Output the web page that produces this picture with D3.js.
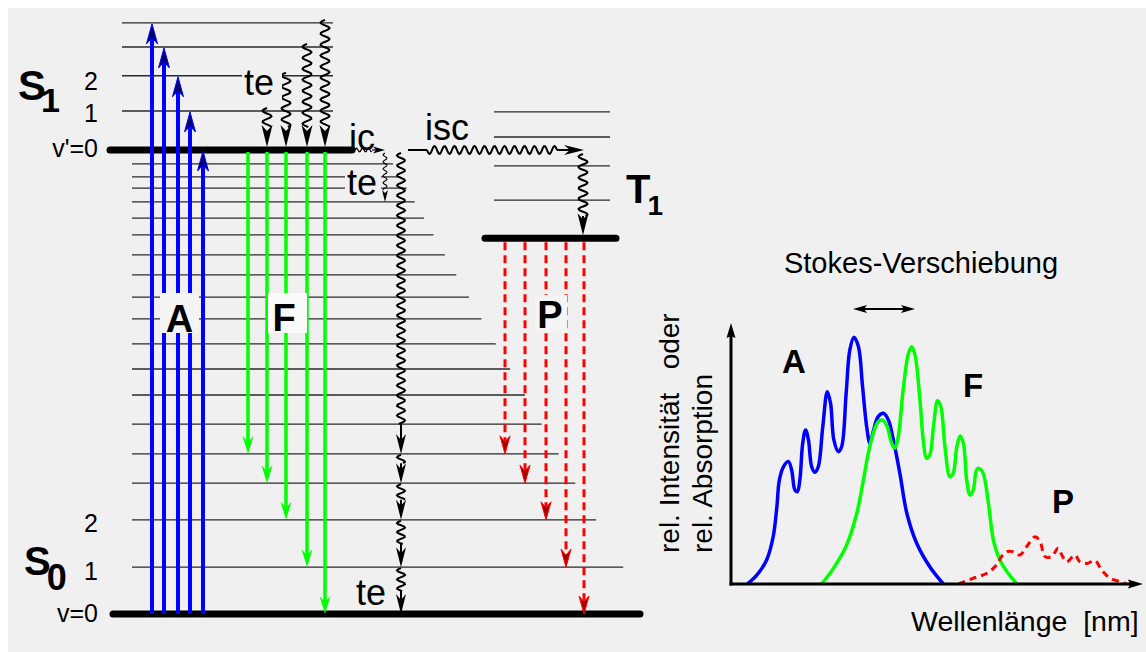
<!DOCTYPE html>
<html>
<head>
<meta charset="utf-8">
<script src="https://cdn.jsdelivr.net/npm/d3@7"></script>
<style>
  body { margin: 0; background: #fff; }
  svg { display: block; }
  text { font-family: "Liberation Sans", Arial, sans-serif; fill: #000; }
</style>
</head>
<body>
<svg id="chart" width="1146" height="652"></svg>
<script>
// energies in arbitrary units: S0 v=0 -> 0, S1 v'=0 -> 100
const s0Levels = [0, 10.1, 20.3, 28.2, 34.5, 40.9, 47.2, 52.8, 58.2, 63.6, 68.3,
  73.1, 77.4, 81.7, 85.3, 88.8, 91.8, 94.2, 97.0];
const s1Levels = [100, 108.4, 116.0, 122.2, 127.4];
const t1Levels = [81.0, 89.2, 96.6, 102.8, 108.2];

// which vibrational level each transition ends in
const absorptionTo = [4, 3, 2, 1, 0];
const fluorescenceTo = [4, 3, 2, 1, 0];
const phosphorescenceTo = [4, 3, 2, 1, 0];
const relaxFrom = [1, 2, 3, 4];
const cascadeTo = [4, 3, 2, 1, 0];

const s1Numbers = ["v'=0", "1", "2"];
const s0Numbers = ["v=0", "1", "2"];

// spectra: [wavelength (rel.), intensity (rel.)]
const absSpectrum = [[3.5, 0], [5.8, 3.4], [8.2, 9.2], [9.8, 18.1], [10.7, 29.6], [11.3, 39.8],
  [12.3, 44.9], [13.5, 46.9], [14.3, 43.7], [15.1, 36.0], [15.7, 35.4], [16.3, 39.8],
  [17.0, 53.9], [17.7, 59.0], [18.4, 55.2], [19.2, 44.9], [20.0, 42.8], [20.8, 44.9],
  [21.9, 60.3], [23.0, 73.7], [23.8, 69.2], [24.6, 55.2], [25.7, 50.7], [26.5, 52.6],
  [27.6, 73.1], [28.5, 89.7], [29.5, 94.5], [30.6, 90.9], [31.6, 75.6], [32.6, 60.3],
  [33.4, 53.9], [34.2, 58.4], [35.4, 64.1], [36.7, 65.4], [37.9, 62.8], [39.1, 55.2],
  [40.7, 42.4], [42.4, 27.1], [44.8, 15.6], [48.0, 6.6], [51.3, 0]];
const fluoSpectrum = [[21.6, 0], [24.5, 6.0], [27.7, 14.9], [30.2, 27.1], [31.8, 39.8],
  [33.0, 50.1], [34.2, 57.7], [35.4, 62.2], [36.5, 62.8], [37.6, 60.3], [38.7, 53.9],
  [39.5, 52.0], [40.3, 56.4], [41.5, 74.3], [42.8, 88.4], [43.6, 90.9], [44.4, 87.7],
  [45.6, 70.5], [46.4, 55.2], [47.2, 48.2], [48.0, 49.4], [48.9, 60.3], [49.9, 70.2],
  [50.7, 67.9], [51.7, 52.6], [52.9, 41.1], [53.7, 42.4], [54.6, 52.6], [55.4, 56.7],
  [56.2, 53.9], [57.0, 39.8], [57.8, 34.1], [58.6, 36.0], [59.4, 43.7], [60.0, 44.3],
  [61.0, 42.4], [62.3, 30.9], [63.5, 16.9], [65.1, 9.2], [67.1, 4.1], [69.3, 0]];
const phosSpectrum = [[55.0, 0], [58.6, 2.2], [61.9, 4.1], [64.3, 7.3], [65.5, 10.5],
  [66.8, 12.4], [68.4, 12.4], [70.0, 11.1], [71.6, 14.3], [73.7, 18.1], [74.9, 16.2],
  [76.1, 10.5], [77.7, 10.5], [79.3, 13.7], [80.2, 11.1], [81.4, 8.5], [83.4, 11.1],
  [84.6, 8.5], [86.3, 7.9], [88.3, 8.9], [89.9, 5.4], [92.0, 2.2], [94.4, 0.9], [96.0, 0]];

const svg = d3.select("#chart");
const BG = "#f0f0f0";
svg.append("rect").attr("x", 8).attr("y", 8).attr("width", 1138).attr("height", 644).attr("fill", BG);

const yE = d3.scaleLinear().domain([0, 100]).range([614, 150]);
const s0End = d3.scaleLinear().domain([0, 100]).range([650, 385]); // staircase of S0 level ends

// layout of the vertical arrows
const blueX = [152, 164, 178, 190, 203];
const greenX = [248, 267, 286, 307, 325];
const redX = [505, 525, 546, 566, 584];
const cascadeX = 401;

const line = d3.line();

function head(g, x, y, angle, o = {}) {
  const len = o.len || 20, w = o.w || 11, notch = o.notch || 6;
  g.append("path")
    .attr("d", `M0,0L${-w / 2},${len}L0,${len - notch}L${w / 2},${len}Z`)
    .attr("transform", `translate(${x},${y}) rotate(${angle})`)
    .attr("fill", o.fill || "#000")
    .attr("stroke", o.stroke || "none")
    .attr("stroke-width", 1);
}

function wavy(x0, y0, x1, y1, amp, period) {
  const len = Math.hypot(x1 - x0, y1 - y0);
  const ux = (x1 - x0) / len, uy = (y1 - y0) / len;
  const n = Math.ceil(len / 1.2);
  const pts = d3.range(n + 1).map((i) => {
    const t = (i / n) * len;
    const off = amp * Math.sin((2 * Math.PI * t) / period);
    return [x0 + ux * t - uy * off, y0 + uy * t + ux * off];
  });
  return line(pts);
}

const levels = svg.append("g").attr("stroke", "#2a2a2a").attr("stroke-width", 1.3);

// S1 vibrational levels
s1Levels.slice(1).forEach((e) => {
  levels.append("line").attr("x1", 122).attr("x2", 333).attr("y1", yE(e)).attr("y2", yE(e));
});
// S0 vibrational levels
s0Levels.slice(1).forEach((e) => {
  levels.append("line").attr("x1", 132).attr("x2", s0End(e)).attr("y1", yE(e)).attr("y2", yE(e));
});
// T1 vibrational levels
t1Levels.slice(1).forEach((e) => {
  levels.append("line").attr("x1", 494).attr("x2", 610).attr("y1", yE(e)).attr("y2", yE(e));
});

// ground levels (thick)
const thick = svg.append("g").attr("stroke", "#000").attr("stroke-width", 7).attr("stroke-linecap", "round");
thick.append("line").attr("x1", 110).attr("x2", 352).attr("y1", yE(s1Levels[0])).attr("y2", yE(s1Levels[0]));
thick.append("line").attr("x1", 485).attr("x2", 616).attr("y1", yE(t1Levels[0])).attr("y2", yE(t1Levels[0]));
thick.append("line").attr("x1", 113).attr("x2", 640).attr("y1", yE(s0Levels[0])).attr("y2", yE(s0Levels[0]));

// absorption
const absG = svg.append("g");
absorptionTo.forEach((k, i) => {
  const x = blueX[i], tip = yE(s1Levels[k]) + 1;
  absG.append("line").attr("x1", x).attr("x2", x).attr("y1", yE(0)).attr("y2", tip + 10)
    .attr("stroke", "#0000ff").attr("stroke-width", 4);
  head(absG, x, tip, 0, { len: 20, w: 11, fill: "#000070", stroke: "#0000ff" });
});

// fluorescence
const fluG = svg.append("g");
fluorescenceTo.forEach((k, i) => {
  const x = greenX[i], tip = yE(s0Levels[k]);
  fluG.append("line").attr("x1", x).attr("x2", x).attr("y1", yE(100) + 2).attr("y2", tip - 10)
    .attr("stroke", "#00ff00").attr("stroke-width", 3.5);
  head(fluG, x, tip, 180, { len: 18, w: 11, fill: "#00ff00" });
});

// phosphorescence
const phoG = svg.append("g");
phosphorescenceTo.forEach((k, i) => {
  const x = redX[i], tip = yE(s0Levels[k]);
  phoG.append("line").attr("x1", x).attr("x2", x).attr("y1", yE(t1Levels[0]) + 4).attr("y2", tip - 8)
    .attr("stroke", "#ff0000").attr("stroke-width", 3).attr("stroke-dasharray", "8,5");
  head(phoG, x, tip, 180, { len: 18, w: 10, fill: "#a00000", stroke: "#ff0000" });
});

// non-radiative processes
const wav = svg.append("g").attr("fill", "none").attr("stroke", "#000").attr("stroke-width", 2);
const heads = svg.append("g");

// vibrational relaxation inside S1
relaxFrom.forEach((k) => {
  const x = greenX[k], top = yE(s1Levels[k]) - 3, tip = yE(100) - 3;
  wav.append("path").attr("d", wavy(x, top, x, tip - 20, 4.5, 11));
  head(heads, x, tip, 180, { len: 22, w: 11 });
});

// internal conversion S1 -> S0 (ic)
wav.append("path").attr("d", wavy(352, 150, 372, 150, 2, 6)).attr("stroke-width", 1.2);
wav.append("path").attr("d", line([[372, 150], [376, 150]])).attr("stroke-width", 1.2);
head(heads, 385, 150, 90, { len: 12, w: 7, notch: 3 });
// small relaxation arrow after ic
wav.append("path").attr("d", wavy(385, 153, 385, 190, 2, 7)).attr("stroke-width", 1.1);
head(heads, 385, 202, 180, { len: 12, w: 6, notch: 3 });

// cascade down the S0 ladder
let prev = yE(100) + 3;
cascadeTo.forEach((k, i) => {
  const tip = yE(s0Levels[k]);
  const gap = tip - prev;
  const rest = Math.max(20, Math.min(30, gap * 0.5));
  wav.append("path").attr("d", wavy(cascadeX, prev, cascadeX, tip - rest, 4, i === 0 ? 10 : 9));
  wav.append("path").attr("d", line([[cascadeX, tip - rest], [cascadeX, tip - 10]]));
  head(heads, cascadeX, tip, 180, { len: 20, w: 10 });
  prev = tip + 1;
});

// intersystem crossing (isc)
wav.append("path").attr("d", line([[408, 150], [427, 150]]));
wav.append("path").attr("d", wavy(427, 150, 557, 150, 4, 10));
wav.append("path").attr("d", line([[557, 150], [570, 150]]));
head(heads, 584, 150, 90, { len: 20, w: 10 });
wav.append("path").attr("d", wavy(583, 154, 583, 216, 4.5, 10.5));
wav.append("path").attr("d", line([[583, 216], [583, 222]]));
head(heads, 583, yE(t1Levels[0]) - 3, 180, { len: 22, w: 11 });

// label boxes
const boxes = svg.append("g");
boxes.append("rect").attr("x", 160).attr("y", 293).attr("width", 39).attr("height", 40).attr("fill", "#f4f4f4");
boxes.append("rect").attr("x", 268).attr("y", 293).attr("width", 39).attr("height", 40).attr("fill", "#fafafa");
boxes.append("rect").attr("x", 535).attr("y", 295).attr("width", 32).attr("height", 38).attr("fill", "#f4f4f4");
boxes.append("rect").attr("x", 242).attr("y", 66).attr("width", 40).attr("height", 34).attr("fill", BG);
boxes.append("rect").attr("x", 345).attr("y", 166).attr("width", 36).attr("height", 32).attr("fill", BG);

const txt = svg.append("g");
function label(x, y, s, size, o = {}) {
  return txt.append("text").attr("x", x).attr("y", y).text(s)
    .attr("font-size", size)
    .attr("font-weight", o.bold ? "bold" : null)
    .attr("text-anchor", o.anchor || "start");
}

// state names with subscript as one text element
function state(x, y, main, sub, size, subSize, dx, dy) {
  const t = txt.append("text").attr("x", x).attr("y", y)
    .attr("font-size", size).attr("font-weight", "bold");
  t.append("tspan").text(main);
  t.append("tspan").attr("dx", dx).attr("dy", dy).attr("font-size", subSize).text(sub);
}
state(18, 100, "S", "1", 42, 34, -5, 12);
state(24, 575, "S", "0", 40, 36, -4, 15);
state(626, 203, "T", "1", 40, 28, -3, 12);

s1Numbers.forEach((s, i) => label(98, yE(s1Levels[i]) + [7, 11, 14][i], s, 25, { anchor: "end" }));
s0Numbers.forEach((s, i) => label(98, yE(s0Levels[i]) + [8, 13, 12][i], s, 25, { anchor: "end" }));

label(244, 95, "te", 36);
label(349, 150, "ic", 36);
label(347, 195, "te", 36);
label(425, 140, "isc", 36);
label(356, 605, "te", 36);

label(179.5, 332, "A", 38, { bold: true, anchor: "middle" });
label(284, 331, "F", 38, { bold: true, anchor: "middle" });
label(550, 328, "P", 38, { bold: true, anchor: "middle" });

// ----- spectrum panel -----
const xS = d3.scaleLinear().domain([0, 100]).range([733, 1143]);
const yS = d3.scaleLinear().domain([0, 100]).range([584, 323]);
const curve = d3.line().x((d) => xS(d[0])).y((d) => yS(d[1])).curve(d3.curveCatmullRom.alpha(0.5));

const spec = svg.append("g").attr("fill", "none").attr("stroke-width", 3.5).attr("stroke-linejoin", "round");
spec.append("path").attr("d", curve(absSpectrum)).attr("stroke", "#0000ff");
spec.append("path").attr("d", curve(fluoSpectrum)).attr("stroke", "#00ff00");
spec.append("path").attr("d", curve(phosSpectrum)).attr("stroke", "#ff0000")
  .attr("stroke-width", 3).attr("stroke-dasharray", "7,5");

const ax = svg.append("g").attr("stroke", "#000").attr("stroke-width", 3);
const x0 = xS(0) - 2, y0 = yS(0);
ax.append("line").attr("x1", x0).attr("x2", x0).attr("y1", y0 + 1.5).attr("y2", yS(100) + 8);
ax.append("line").attr("x1", x0 - 1.5).attr("x2", xS(100) - 8).attr("y1", y0).attr("y2", y0);
head(svg, x0, yS(100), 0, { len: 15, w: 9, notch: 2 });
head(svg, xS(100), y0, 90, { len: 15, w: 9, notch: 2 });

// Stokes shift arrow
svg.append("line").attr("x1", 860).attr("x2", 908).attr("y1", 309).attr("y2", 309)
  .attr("stroke", "#000").attr("stroke-width", 2.2);
head(svg, 853, 309, -90, { len: 14, w: 8, notch: 3 });
head(svg, 915, 309, 90, { len: 14, w: 8, notch: 3 });

label(921, 273, "Stokes-Verschiebung", 29, { anchor: "middle" });
label(911, 631, "Wellenlänge  [nm]", 28.5).style("white-space", "pre");
txt.append("text").attr("transform", "translate(679,553) rotate(-90)")
  .attr("font-size", 28).style("white-space", "pre").text("rel. Intensität   oder");
txt.append("text").attr("transform", "translate(712,553) rotate(-90)")
  .attr("font-size", 28).text("rel. Absorption");

label(782, 373, "A", 33, { bold: true });
label(963, 397, "F", 33, { bold: true });
label(1052, 513, "P", 33, { bold: true });
</script>
</body>
</html>
